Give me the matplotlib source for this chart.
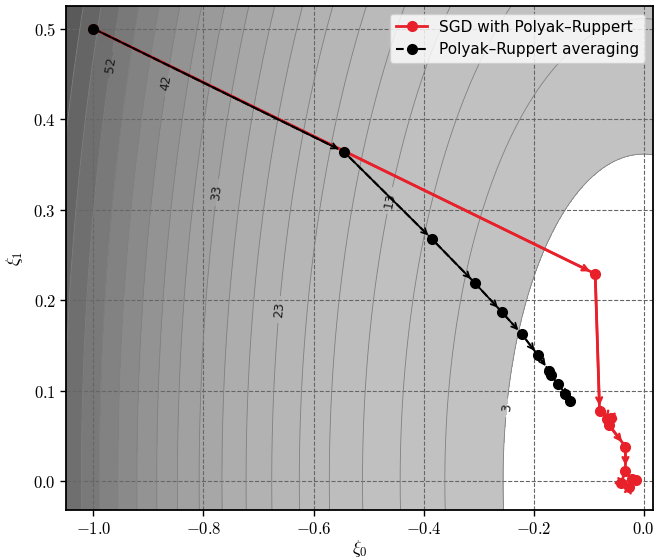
import numpy as np
import matplotlib
matplotlib.use("Agg")
import matplotlib.pyplot as plt
from matplotlib.ticker import FormatStrFormatter

plt.rcParams["mathtext.fontset"] = "cm"

# quadratic objective f(xi) = A*xi0^2 + B*xi1^2
coef_a = 50.0
coef_b = 25.0
f_max = 62.0
n_levels = 20

# SGD iterates
sgd_x = [-1.0, -0.088, -0.080, -0.060, -0.066, -0.063, -0.033, -0.033, -0.041, -0.026, -0.022, -0.014]
sgd_y = [0.5, 0.229, 0.077, 0.070, 0.069, 0.062, 0.038, 0.011, -0.002, -0.007, 0.002, 0.001]

# running Polyak-Ruppert averages
avg_x = [-1.0, -0.545, -0.384, -0.307, -0.258, -0.221, -0.192, -0.172, -0.169, -0.155, -0.142, -0.133]
avg_y = [0.5, 0.364, 0.267, 0.219, 0.187, 0.162, 0.139, 0.122, 0.117, 0.107, 0.096, 0.0885]

label_pos = [(-0.97, 0.46), (-0.87, 0.44), (-0.79, 0.32), (-0.67, 0.19), (-0.46, 0.31), (-0.235, 0.08)]

red = "#e8202a"

xs = np.linspace(-1.08, 0.05, 500)
ys = np.linspace(-0.05, 0.54, 400)
X, Y = np.meshgrid(xs, ys)
Z = coef_a * X**2 + coef_b * Y**2
levels = np.linspace(0, f_max, n_levels)
lab_levels = levels[1::3]
plain_levels = np.array([l for i, l in enumerate(levels) if (i - 1) % 3 != 0])

# white for the lowest band, then grays darkening towards high loss
nb = n_levels - 1
band_colors = ["white"] + [
    str(round(0.76 - 0.45 * ((k - 1) / (nb - 1)) ** 1.8, 3)) for k in range(1, nb)
]

fig = plt.figure(figsize=(6.55, 5.59), dpi=100)
ax = fig.add_axes([0.1015, 0.0877, 0.8954, 0.9016])

ax.contourf(X, Y, Z, levels=levels, colors=band_colors)
ax.contour(X, Y, Z, levels=plain_levels, colors="0.5", linewidths=0.6)
cs = ax.contour(X, Y, Z, levels=lab_levels, colors="0.5", linewidths=0.6)
ax.clabel(cs, manual=label_pos, fmt="%1.0f", fontsize=9, colors="0.1", inline=True)

ax.plot(sgd_x, sgd_y, "o-", color=red, lw=2.0, ms=7, zorder=3,
        label="SGD with Polyak\u2013Ruppert")
ax.plot(avg_x, avg_y, "o--", color="black", lw=1.5, ms=7, zorder=4,
        label="Polyak\u2013Ruppert averaging")

for i in range(len(sgd_x) - 1):
    ax.annotate("", xy=(sgd_x[i + 1], sgd_y[i + 1]), xytext=(sgd_x[i], sgd_y[i]),
                arrowprops=dict(arrowstyle="->", color=red, lw=1.8, shrinkA=0, shrinkB=4),
                zorder=3)
for i in range(len(avg_x) - 1):
    ax.annotate("", xy=(avg_x[i + 1], avg_y[i + 1]), xytext=(avg_x[i], avg_y[i]),
                arrowprops=dict(arrowstyle="->", color="black", lw=1.3, shrinkA=0, shrinkB=4),
                zorder=4)

ax.set_xlim(-1.049, 0.017)
ax.set_ylim(-0.032, 0.525)
ax.set_xticks([-1.0, -0.8, -0.6, -0.4, -0.2, 0.0])
ax.set_yticks([0.0, 0.1, 0.2, 0.3, 0.4, 0.5])
ax.xaxis.set_major_formatter(FormatStrFormatter(r"$%.1f$"))
ax.yaxis.set_major_formatter(FormatStrFormatter(r"$%.1f$"))
ax.tick_params(labelsize=12, direction="out", length=4, width=1)
ax.grid(True, linestyle="--", color="0.4", linewidth=0.8)
for s in ax.spines.values():
    s.set_linewidth(1.3)

ax.set_xlabel(r"$\xi_0$", fontsize=13, labelpad=0)
ax.set_ylabel(r"$\xi_1$", fontsize=13, labelpad=6)

ax.legend(loc="upper right", fontsize=11, framealpha=0.8, borderpad=0.4,
          handlelength=2.0)

fig.savefig("out.png", dpi=100)
